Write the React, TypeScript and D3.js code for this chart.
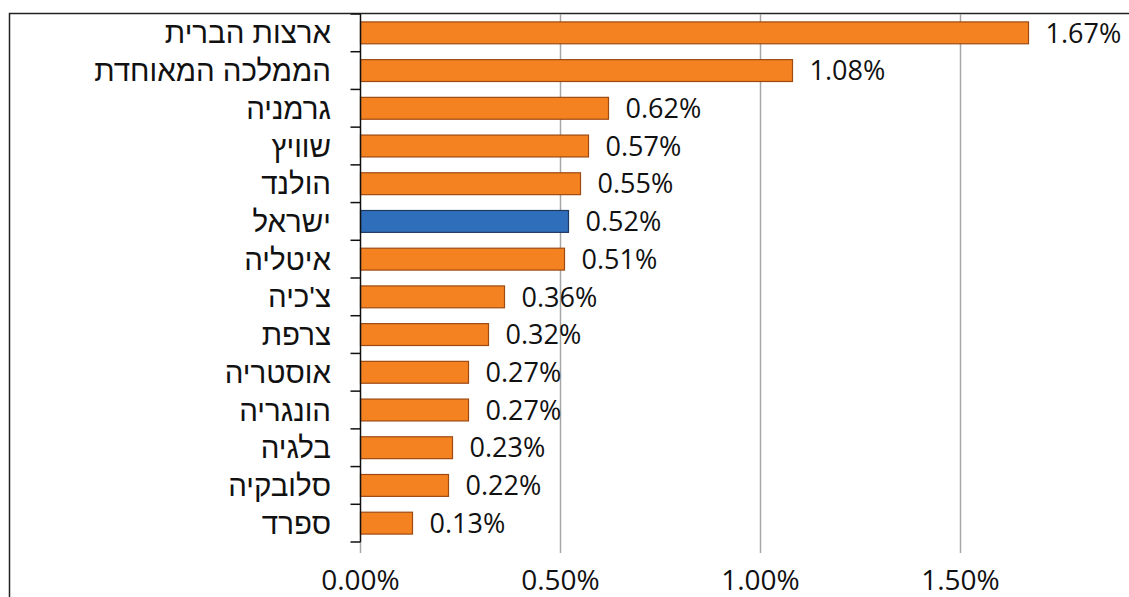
import React, { useEffect, useRef } from 'react';
import * as d3 from 'd3';

const countries = [
  'ארצות הברית',
  'הממלכה המאוחדת',
  'גרמניה',
  'שוויץ',
  'הולנד',
  'ישראל',
  'איטליה',
  "צ'כיה",
  'צרפת',
  'אוסטריה',
  'הונגריה',
  'בלגיה',
  'סלובקיה',
  'ספרד',
];
const values = [1.67, 1.08, 0.62, 0.57, 0.55, 0.52, 0.51, 0.36, 0.32, 0.27, 0.27, 0.23, 0.22, 0.13];
const highlight = 'ישראל';
const xTicks = [0, 0.5, 1.0, 1.5];

const App = () => {
  const ref = useRef<SVGSVGElement>(null);

  useEffect(() => {
    const width = 1129;
    const height = 597;
    const left = 360.5;
    const top = 14;
    const bottom = 542;
    const font = '"Open Sans", "Liberation Sans", sans-serif';
    const hebFont = '"Liberation Sans", "Open Sans", sans-serif';

    const svg = d3.select(ref.current);
    svg.selectAll('*').remove();

    const x = d3.scaleLinear().domain([0, 1]).range([left, left + 400]);
    const y = d3.scaleBand().domain(countries).range([top, bottom]).paddingInner(0.42).paddingOuter(0.21);
    const band = d3.scaleBand().domain(countries).range([top, bottom]);

    // outer frame
    svg
      .append('rect')
      .attr('x', 9.5)
      .attr('y', 13.5)
      .attr('width', width + 20)
      .attr('height', height + 20)
      .attr('fill', 'white')
      .attr('stroke', '#222')
      .attr('stroke-width', 1.5);

    // vertical gridlines (extend below as tick marks)
    svg
      .selectAll('line.grid')
      .data(xTicks.slice(1))
      .enter()
      .append('line')
      .attr('x1', d => x(d))
      .attr('x2', d => x(d))
      .attr('y1', 14)
      .attr('y2', 553)
      .attr('stroke', '#a6a6a6')
      .attr('stroke-width', 1.5);

    svg
      .append('line')
      .attr('x1', left)
      .attr('x2', left)
      .attr('y1', bottom)
      .attr('y2', 553)
      .attr('stroke', '#a6a6a6')
      .attr('stroke-width', 1.5);

    // bars
    svg
      .selectAll('rect.bar')
      .data(values)
      .enter()
      .append('rect')
      .attr('x', left)
      .attr('y', (d, i) => y(countries[i])!)
      .attr('width', d => x(d) - left)
      .attr('height', y.bandwidth())
      .attr('fill', (d, i) => (countries[i] === highlight ? '#2F6EBA' : '#F58220'))
      .attr('stroke', (d, i) => (countries[i] === highlight ? '#1F3A60' : '#9C4A12'))
      .attr('stroke-width', 1.2);

    // value labels
    svg
      .selectAll('text.val')
      .data(values)
      .enter()
      .append('text')
      .attr('x', d => x(d) + 17)
      .attr('y', (d, i) => y(countries[i])! + y.bandwidth() / 2)
      .attr('dy', '0.36em')
      .attr('font-family', font)
      .attr('font-size', 27)
      .attr('fill', '#111')
      .text(d => d.toFixed(2) + '%');

    // y axis line and ticks
    svg
      .append('line')
      .attr('x1', left)
      .attr('x2', left)
      .attr('y1', top)
      .attr('y2', bottom)
      .attr('stroke', '#111')
      .attr('stroke-width', 1.5);

    const boundaries = countries.map(c => band(c)!).concat([bottom]);
    svg
      .selectAll('line.ytick')
      .data(boundaries)
      .enter()
      .append('line')
      .attr('x1', left - 10)
      .attr('x2', left)
      .attr('y1', d => d)
      .attr('y2', d => d)
      .attr('stroke', '#111')
      .attr('stroke-width', 1.5);

    // category labels
    svg
      .selectAll('text.cat')
      .data(countries)
      .enter()
      .append('text')
      .attr('x', 331)
      .attr('y', d => y(d)! + y.bandwidth() / 2)
      .attr('dy', '0.36em')
      .attr('text-anchor', 'end')
      .attr('font-family', hebFont)
      .attr('font-size', 29.5)
      .attr('fill', '#111')
      .text(d => d);

    // x tick labels
    svg
      .selectAll('text.xt')
      .data(xTicks)
      .enter()
      .append('text')
      .attr('x', d => x(d))
      .attr('y', 590)
      .attr('text-anchor', 'middle')
      .attr('font-family', font)
      .attr('font-size', 28)
      .attr('fill', '#111')
      .text(d => d.toFixed(2) + '%');
  }, []);

  return (
    <svg
      ref={ref}
      width={1129}
      height={597}
      style={{ position: 'absolute', left: 0, top: 0, display: 'block' }}
    />
  );
};

export default App;
